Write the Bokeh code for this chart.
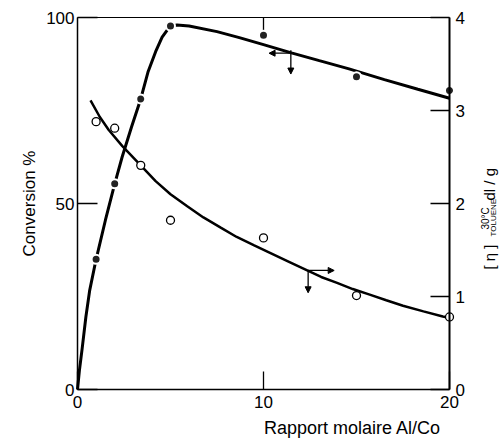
import math
from bokeh.plotting import figure
from bokeh.models import (Range1d, LinearAxis, FixedTicker, Label, Arrow, NormalHead)
from bokeh.embed import file_html
from bokeh.resources import INLINE

# ---- data ----
ratio_pts = [1, 2, 3.4, 5, 10, 15, 20]
conversion_pts = [35, 55.3, 78.1, 97.7, 95.2, 84.1, 80.4]
visc_ratio_pts = [1, 2, 3.4, 5, 10, 15, 20]
visc_pts = [2.88, 2.81, 2.41, 1.82, 1.63, 1.01, 0.78]

# hand-drawn trend curves
conv_curve_x = [0, 0.1, 0.25, 0.45, 0.65, 1.0, 1.5, 2.0, 2.4, 2.9, 3.4, 3.8, 4.2, 4.55,
                4.95, 5.35, 6.0, 7.5, 8.7, 10, 11.5, 13, 14.6, 16.5, 18.3, 20]
conv_curve_y = [0, 5, 11, 19.5, 26.5, 35, 45.5, 55.3, 62.5, 70.5, 78.1, 85.5, 90.8, 94.7,
                97.5, 98, 97.7, 96.2, 94.6, 92.7, 90.5, 88.4, 86.2, 83.3, 80.7, 78.3]
visc_curve_x = [0.7, 1.2, 1.68, 2.4, 3.45, 4.2, 5.0, 5.9, 6.77, 7.7, 8.56, 9.5, 10.35, 11.4,
                12.35, 13.1, 13.92, 14.8, 15.71, 16.6, 17.5, 18.6, 19.64, 20]
visc_curve_y = [3.11, 2.93, 2.79, 2.62, 2.40, 2.24, 2.10, 1.97, 1.85, 1.74, 1.64, 1.55, 1.47, 1.37,
                1.28, 1.21, 1.15, 1.08, 1.02, 0.96, 0.90, 0.84, 0.785, 0.77]

x_ticks = [0, 10, 20]
conv_ticks = [0, 50, 100]
visc_ticks = [0, 1, 2, 3, 4]
top_tick_x = [10]
x_bounds = [0, 20]
conv_bounds = [0, 100]

FONT = "Liberation Sans"

# ---- geometry (pixels of the plot box inside the figure) ----
W, H = 500, 440
PX0, PX20 = 77.0, 449.0      # x = 0 and x = 20
PY0, PY100 = 389.0, 17.0     # conversion 0 and 100
SX = (PX20 - PX0) / 20.0
SY = (PY0 - PY100) / 100.0

def dx(px):
    return (px - PX0) / SX

def dy(py):
    return (PY0 - py) / SY

x_start, x_end = dx(0), dx(W)
y_start, y_end = dy(H), dy(0)

p = figure(width=W, height=H, x_range=Range1d(x_start, x_end), y_range=Range1d(y_start, y_end),
           output_backend="svg", toolbar_location=None,
           min_border_left=0, min_border_right=0, min_border_top=0, min_border_bottom=0,
           x_axis_type=None, y_axis_type=None)
p.extra_y_ranges = {"visc": Range1d(y_start / 25.0, y_end / 25.0)}
p.xgrid.visible = False
p.ygrid.visible = False
p.outline_line_color = None
p.background_fill_color = "white"
p.border_fill_color = "white"

def style(ax, tick_in, standoff, lw):
    ax.minor_tick_line_color = None
    ax.major_tick_in = tick_in
    ax.major_tick_out = 0
    ax.major_label_standoff = standoff
    ax.major_label_text_font = FONT
    ax.major_label_text_font_size = "17px"
    ax.major_label_text_color = "black"
    ax.axis_line_width = lw
    ax.major_tick_line_width = 1.3

# bottom axis
xa = LinearAxis(fixed_location=0, bounds=(0, 20), ticker=FixedTicker(ticks=x_ticks))
style(xa, 18, 6, 1.5)
p.add_layout(xa, "below")

# left axis
ya = LinearAxis(fixed_location=0, bounds=(0, 100), ticker=FixedTicker(ticks=conv_ticks))
style(ya, 20, 3, 1.5)
ya.axis_label = "Conversion %"
ya.axis_label_text_font = FONT
ya.axis_label_text_font_size = "17px"
ya.axis_label_text_font_style = "normal"
ya.axis_label_text_color = "black"
ya.axis_label_standoff = 4
p.add_layout(ya, "left")

# right axis
ra = LinearAxis(y_range_name="visc", fixed_location=20, bounds=(0, 4),
                ticker=FixedTicker(ticks=visc_ticks))
style(ra, 19, 6, 2)
p.add_layout(ra, "right")

# top border line and its inner tick at x = 10
p.segment(x0=[x_bounds[0]], y0=[conv_bounds[1]], x1=[x_bounds[1]], y1=[conv_bounds[1]],
          line_color="black", line_width=1.2)
p.segment(x0=top_tick_x, y0=[conv_bounds[1]] * len(top_tick_x), x1=top_tick_x,
          y1=[conv_bounds[1] - 4.6] * len(top_tick_x), line_color="black", line_width=1.3)

# curves
p.line(conv_curve_x, conv_curve_y, line_color="black", line_width=3)
p.line(visc_curve_x, visc_curve_y, y_range_name="visc", line_color="black", line_width=2.5)

# markers
p.scatter(ratio_pts, conversion_pts, size=9, fill_color="#222222", line_color="white", line_width=2)
p.scatter(visc_ratio_pts, visc_pts, y_range_name="visc", size=8, fill_color="white",
          line_color="black", line_width=1.3)

# arrows indicating which axis each curve refers to
def arrow(x0, y0, x1, y1):
    p.add_layout(Arrow(end=NormalHead(size=6, fill_color="black", line_color="black"),
                       x_start=x0, y_start=y0, x_end=x1, y_end=y1,
                       line_color="black", line_width=1.3))

arrow(11.42, 90.4, 10.3, 90.4)
arrow(11.47, 91.2, 11.47, 84.8)
arrow(12.3, 32.0, 13.8, 32.0)
arrow(12.4, 32.0, 12.4, 26.0)

# x axis title (offset to the right as in the original)
p.add_layout(Label(x=dx(352), y=dy(427), text="Rapport molaire Al/Co", text_align="center",
                   text_baseline="middle", text_font=FONT, text_font_size="18px",
                   text_color="black"))

# right axis title: [η] 30°C TOLUENE dl/g, rotated
ang = math.pi / 2
def rlabel(px, py, txt, size):
    p.add_layout(Label(x=dx(px), y=dy(py), text=txt, angle=ang, text_align="left",
                       text_baseline="middle", text_font=FONT, text_font_size=size,
                       text_color="black"))

rlabel(488.5, 269, "[ η ]", "15px")
rlabel(484.5, 229, "30°C", "10px")
rlabel(492.5, 236, "TOLUENE", "8px")
rlabel(488.5, 200, "dl / g", "15px")

open("out.html", "w").write(file_html(p, INLINE))
